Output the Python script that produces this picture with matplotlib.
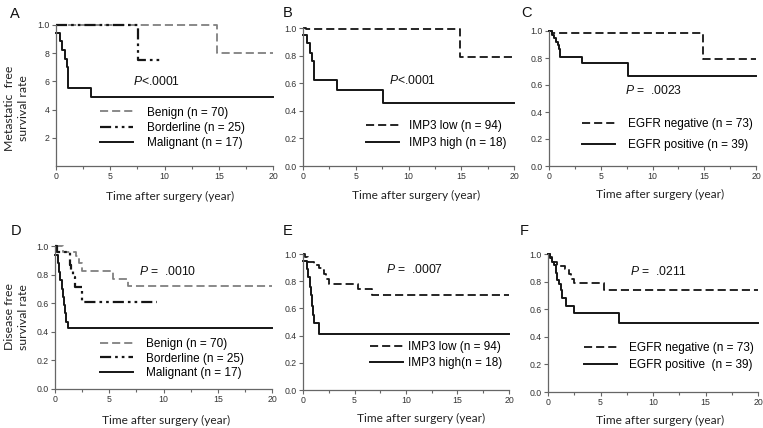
import matplotlib
matplotlib.use("Agg")
import matplotlib.pyplot as plt

plt.rcParams['font.family'] = ['Liberation Sans', 'DejaVu Sans']
plt.rcParams['mathtext.fontset'] = 'custom'
plt.rcParams['mathtext.it'] = 'Liberation Sans:italic'
plt.rcParams['mathtext.rm'] = 'Liberation Sans'

# ---------------- data (time in years, survival fraction) ----------------
# Panel A : metastatic free, histology
a_benign_t = [0, 14.8, 20]
a_benign_s = [1.0, 0.80, 0.80]
a_border_t = [0, 7.6, 9.6]
a_border_s = [1.0, 0.75, 0.75]
a_malig_t = [0, 0.36, 0.58, 0.8, 0.98, 1.07, 3.25, 20]
a_malig_s = [0.94, 0.89, 0.825, 0.76, 0.70, 0.556, 0.486, 0.486]

# Panel B : metastatic free, IMP3
b_low_t = [0, 0.3, 14.9, 20]
b_low_s = [1.0, 0.99, 0.79, 0.79]
b_high_t = [0, 0.4, 0.65, 0.87, 1.06, 3.25, 7.6, 20]
b_high_s = [0.95, 0.89, 0.82, 0.76, 0.62, 0.55, 0.46, 0.46]

# Panel C : metastatic free, EGFR
c_neg_t = [0, 0.3, 14.9, 20]
c_neg_s = [1.0, 0.985, 0.79, 0.79]
c_pos_t = [0, 0.26, 0.48, 0.68, 0.84, 0.97, 1.1, 3.2, 7.6, 20]
c_pos_s = [1.0, 0.97, 0.945, 0.915, 0.895, 0.87, 0.805, 0.765, 0.667, 0.667]

# Panel D : disease free, histology
d_benign_t = [0, 0.7, 1.9, 2.2, 2.5, 5.3, 6.7, 20]
d_benign_s = [1.0, 0.96, 0.93, 0.88, 0.825, 0.77, 0.72, 0.72]
d_border_t = [0, 0.2, 1.35, 1.5, 1.67, 1.82, 2.5, 9.4]
d_border_s = [1.0, 0.955, 0.87, 0.83, 0.785, 0.71, 0.61, 0.61]
d_malig_t = [0, 0.25, 0.4, 0.5, 0.6, 0.7, 0.8, 0.9, 1.0, 1.2, 20]
d_malig_s = [0.94, 0.88, 0.82, 0.76, 0.70, 0.64, 0.59, 0.53, 0.47, 0.43, 0.43]

# Panel E : disease free, IMP3
e_low_t = [0, 0.2, 0.5, 1.1, 1.6, 1.8, 2.0, 2.2, 2.55, 5.3, 6.7, 20]
e_low_s = [1.0, 0.98, 0.94, 0.92, 0.90, 0.88, 0.85, 0.815, 0.78, 0.74, 0.70, 0.70]
e_high_t = [0, 0.35, 0.5, 0.65, 0.8, 0.9, 1.0, 1.1, 1.6, 20]
e_high_s = [0.95, 0.89, 0.83, 0.76, 0.70, 0.62, 0.55, 0.49, 0.41, 0.41]

# Panel F : disease free, EGFR
f_neg_t = [0, 0.15, 0.4, 0.9, 1.6, 2.0, 2.2, 2.5, 5.35, 20]
f_neg_s = [1.0, 0.975, 0.94, 0.91, 0.89, 0.855, 0.82, 0.79, 0.74, 0.74]
f_pos_t = [0, 0.2, 0.4, 0.6, 0.75, 0.9, 1.05, 1.2, 1.35, 1.75, 2.5, 6.8, 20]
f_pos_s = [1.0, 0.97, 0.945, 0.92, 0.86, 0.815, 0.78, 0.74, 0.68, 0.62, 0.57, 0.50, 0.50]

panel_letters = ['A', 'B', 'C', 'D', 'E', 'F']
p_texts = ['$P$<.0001', '$P$<.0001', '$P$ =  .0023', '$P$ =  .0010', '$P$ =  .0007', '$P$ =  .0211']
xticks = [0, 5, 10, 15, 20]
yticks = [0.0, 0.2, 0.4, 0.6, 0.8, 1.0]
a_yticks = [0.2, 0.4, 0.6, 0.8, 1.0]
a_yticklabels = ['2', '4', '6', '8', '1.0']
xlabel = 'Time after surgery (year)'
ylabel_top = 'Metastatic  free\nsurvival rate'
ylabel_bot = 'Disease free\nsurvival rate'

# ---------------- figure ----------------
W, H = 763, 428
fig = plt.figure(figsize=(W / 100, H / 100), dpi=100)

def px_axes(l, r, t, b):
    return fig.add_axes([l / W, 1 - b / H, (r - l) / W, (b - t) / H])

boxes = [(56, 273, 25, 166), (303, 514, 28, 166), (549, 756, 31, 166),
         (55, 272, 246, 389), (303, 509, 254, 390), (548, 758, 254, 392)]
axes = [px_axes(*b) for b in boxes]

BLK = '#151515'
GRY = '#808080'
dash = (0, (4.5, 2.2))
ddot = (0, (5, 1.8, 1.2, 1.8, 1.2, 1.8))

def style(ax, i):
    ax.set_xlim(0, 20)
    ax.set_ylim(0, 1.0)
    for s in ['top', 'right']:
        ax.spines[s].set_visible(False)
    for s in ['left', 'bottom']:
        ax.spines[s].set_color('#666666')
        ax.spines[s].set_linewidth(0.9)
    ax.set_xticks(xticks)
    ax.set_xticks([2.5, 7.5, 12.5, 17.5], minor=True)
    if i == 0:
        ax.set_yticks(a_yticks)
        ax.set_yticklabels(a_yticklabels)
    else:
        ax.set_yticks(yticks)
        ax.set_yticklabels([f'{v:.1f}' for v in yticks])
    ax.tick_params(which='both', direction='out', length=3, width=0.8,
                   color='#666666', labelsize=6.3, labelcolor='#333333', pad=1.5)
    ax.tick_params(which='minor', length=2)
    ax.set_xlabel(xlabel, family=['Lato', 'DejaVu Sans'], fontsize=8.6, color='#222222')
    ax.xaxis.label.set_va('center')

kw = dict(where='post', clip_on=False)

ax = axes[0]
ax.step(a_benign_t, a_benign_s, color=GRY, lw=1.3, ls=dash, label='Benign (n = 70)', **kw)
ax.step(a_border_t, a_border_s, color=BLK, lw=1.6, ls=ddot, label='Borderline (n = 25)', **kw)
ax.step(a_malig_t, a_malig_s, color=BLK, lw=1.4, label='Malignant (n = 17)', **kw)

ax = axes[1]
ax.step(b_low_t, b_low_s, color=BLK, lw=1.3, ls=dash, label='IMP3 low (n = 94)', **kw)
ax.step(b_high_t, b_high_s, color=BLK, lw=1.4, label='IMP3 high (n = 18)', **kw)

ax = axes[2]
ax.step(c_neg_t, c_neg_s, color=BLK, lw=1.3, ls=dash, label='EGFR negative (n = 73)', **kw)
ax.step(c_pos_t, c_pos_s, color=BLK, lw=1.4, label='EGFR positive (n = 39)', **kw)

ax = axes[3]
ax.step(d_benign_t, d_benign_s, color=GRY, lw=1.3, ls=dash, label='Benign (n = 70)', **kw)
ax.step(d_border_t, d_border_s, color=BLK, lw=1.6, ls=ddot, label='Borderline (n = 25)', **kw)
ax.step(d_malig_t, d_malig_s, color=BLK, lw=1.4, label='Malignant (n = 17)', **kw)

ax = axes[4]
ax.step(e_low_t, e_low_s, color=BLK, lw=1.3, ls=dash, label='IMP3 low (n = 94)', **kw)
ax.step(e_high_t, e_high_s, color=BLK, lw=1.4, label='IMP3 high(n = 18)', **kw)

ax = axes[5]
ax.step(f_neg_t, f_neg_s, color=BLK, lw=1.3, ls=dash, label='EGFR negative (n = 73)', **kw)
ax.step(f_pos_t, f_pos_s, color=BLK, lw=1.4, label='EGFR positive  (n = 39)', **kw)

for i, ax in enumerate(axes):
    style(ax, i)

# x-label positions (axes coords)
xl = [(0.525, -0.213), (0.535, -0.217), (0.535, -0.21),
      (0.512, -0.217), (0.575, -0.21), (0.535, -0.207)]
for ax, (x, y) in zip(axes, xl):
    ax.xaxis.set_label_coords(x, y)

# P-values (data coords)
p_pos = [(7.1, 0.60), (8.15, 0.62), (7.3, 0.56), (7.7, 0.825), (8.1, 0.885), (7.8, 0.87)]
for ax, t, (x, y) in zip(axes, p_texts, p_pos):
    ax.text(x, y, t, fontsize=8.7, ha='left', va='center', color='#111111')

# Legends
leg_cfg = [(0.203, 0.27, 1.2, 0.28), (0.30, 0.228, 0.85, 0.45), (0.16, 0.235, 1.1, 0.75),
           (0.206, 0.213, 1.1, 0.22), (0.325, 0.258, 0.45, 0.35), (0.171, 0.258, 1.0, 0.45)]
for ax, (x, y, htp, ls) in zip(axes, leg_cfg):
    ax.legend(loc='center left', bbox_to_anchor=(x, y), frameon=False, fontsize=8.5,
              borderpad=0, borderaxespad=0, handlelength=2.8, handletextpad=htp,
              labelspacing=ls)

# Panel letters
letter_pos = [(15, 14), (288, 13), (526, 13), (16, 231), (288, 231), (524, 231)]
for L, (x, y) in zip(panel_letters, letter_pos):
    fig.text(x / W, 1 - y / H, L, fontsize=10.5, ha='center', va='center', color='#111111')

# Y labels
fig.text(16.5 / W, 1 - 108 / H, ylabel_top, rotation=90, ha='center', va='center',
         multialignment='center', fontsize=8.8, linespacing=1.4,
         family=['Lato', 'DejaVu Sans'], color='#222222')
fig.text(16.5 / W, 1 - 317 / H, ylabel_bot, rotation=90, ha='center', va='center',
         multialignment='center', fontsize=8.8, linespacing=1.4,
         family=['Lato', 'DejaVu Sans'], color='#222222')

fig.savefig('out.png', dpi=100)
